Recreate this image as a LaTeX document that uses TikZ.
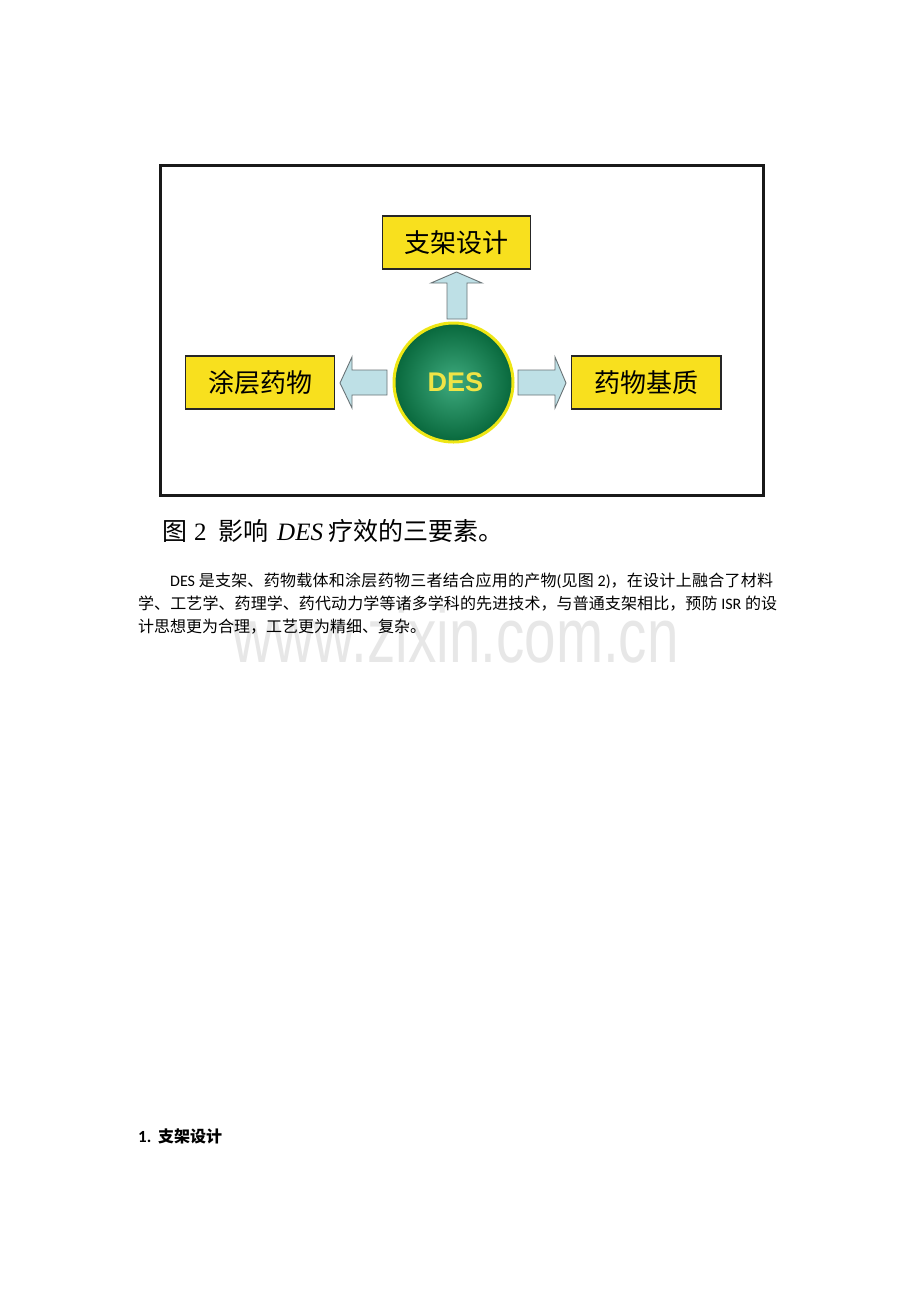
\documentclass[tikz,border=0pt]{standalone}
\usepackage{fontspec}
\usepackage{graphicx}
\setmainfont{Carlito}
\newfontfamily\cjk{Noto Sans CJK SC}
\newfontfamily\serifl{Liberation Serif}
\newfontfamily\sansl{Liberation Sans}
\XeTeXlinebreaklocale "zh"
\XeTeXlinebreakskip=0pt plus 2pt
\definecolor{boxyellow}{RGB}{248,224,30}
\definecolor{ringyellow}{RGB}{238,230,20}
\definecolor{arrowblue}{RGB}{190,224,230}
\definecolor{arrowedge}{RGB}{105,115,118}
\definecolor{greenin}{RGB}{62,170,126}
\definecolor{greenout}{RGB}{8,104,60}
\definecolor{desyellow}{RGB}{240,228,70}
\definecolor{wmgray}{RGB}{231,231,231}
\tikzset{
  ybox/.style={draw=black!85, line width=1.3pt, fill=boxyellow, inner sep=0pt,
    minimum height=53pt, font=\cjk\fontsize{26}{30}\selectfont},
  blockarrow/.style={draw=arrowedge, line width=0.9pt, fill=arrowblue, line join=miter},
  bodyline/.style={anchor=base west, inner sep=0pt, font=\fontsize{16}{20}\selectfont},
}
\begin{document}
\begin{tikzpicture}[x=1pt,y=-1pt]
\fill[white] (0,0) rectangle (920,1302);
\useasboundingbox (0,0) rectangle (920,1302);
% frame
\draw[line width=3pt, black!90] (160,165) rectangle (763,495);
% boxes
\node[ybox, minimum width=148pt] (top) at (456.5,242.5) {支架设计};
\node[ybox, minimum width=148.5pt] (left) at (260,382.5) {涂层药物};
\node[ybox, minimum width=149.5pt] (right) at (646.25,382.5) {药物基质};
% centre
\node[circle, minimum size=119pt, inner sep=0pt, shading=radial, inner color=greenin,
  outer color=greenout, draw=ringyellow, line width=3pt,
  font=\sansl\bfseries\fontsize{27}{30}\selectfont, text=desyellow] (des) at (453.5,382.5) {\hspace{4pt}DES};
% block arrows
\draw[blockarrow] (447,319) -- (447,283) -- (431,283) -- (456.5,272) -- (482,283) -- (467,283) -- (467,319) -- cycle;
\draw[blockarrow] (387,370) -- (352,370) -- (352,357) -- (340,383) -- (352,408) -- (352,395) -- (387,395) -- cycle;
\draw[blockarrow] (518,370) -- (555,370) -- (555,357) -- (566,383) -- (555,408) -- (555,395) -- (518,395) -- cycle;
% caption
\node[anchor=base west, inner sep=0pt, font=\cjk\fontsize{25}{30}\selectfont] (c1) at (162,540) {图};
\node[anchor=base west, inner sep=0pt, font=\serifl\fontsize{25}{30}\selectfont] (c2) at (194,540) {2};
\node[anchor=base west, inner sep=0pt, font=\cjk\fontsize{25}{30}\selectfont] (c3) at (218,540) {影响};
\node[anchor=base west, inner sep=0pt, font=\serifl\itshape\fontsize{25}{30}\selectfont] (c4) at (277,540) {DES};
\node[anchor=base west, inner sep=0pt, font=\cjk\fontsize{25}{30}\selectfont] (c5) at (328,540) {疗效的三要素。};
% watermark
\node[anchor=base west, inner sep=0pt, text=wmgray, font=\sansl\fontsize{77}{80}\selectfont] (wm) at (232,662) {\scalebox{0.735}[1]{www.zixin.com.cn}};
% body text
\node[bodyline] (l1) at (170,586) {\parbox[b]{603pt}{\parfillskip=0pt\tolerance=10000 DES {\cjk 是支架、药物载体和涂层药物三者结合应用的产物}({\cjk 见图} 2){\cjk ，在设计上融合了材料}}};
\node[bodyline] (l2) at (138,609) {\parbox[b]{639pt}{\parfillskip=0pt\tolerance=10000 {\cjk 学、工艺学、药理学、药代动力学等诸多学科的先进技术，与普通支架相比，预防} ISR {\cjk 的设}}};
\node[bodyline, font=\cjk\fontsize{16}{20}\selectfont] (l3) at (138,632) {计思想更为合理，工艺更为精细、复杂。};
% heading
\node[anchor=base west, inner sep=0pt, font=\bfseries\fontsize{17}{20}\selectfont] (h1) at (138,1142) {1.};
\node[anchor=base west, inner sep=0pt, font=\cjk\bfseries\fontsize{16}{20}\selectfont] (h2) at (158,1142) {支架设计};
\end{tikzpicture}
\end{document}
